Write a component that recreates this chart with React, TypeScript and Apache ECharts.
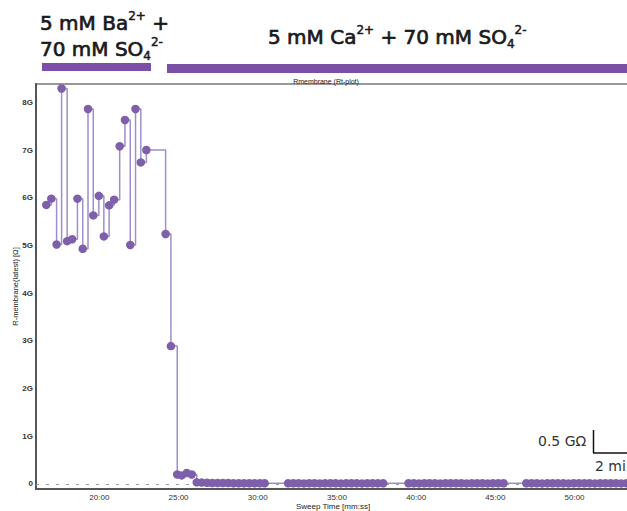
import React, { useEffect, useRef } from "react";
import * as echarts from "echarts";

// Ba2+ phase (sweep time mm:ss, R-membrane in GΩ)
const bariumTimes = ["16:39", "16:58", "17:18", "17:37", "17:58", "18:17", "18:37", "18:57", "19:17", "19:37", "19:58", "20:17", "20:37", "20:56", "21:17", "21:37", "21:57", "22:17", "22:37", "22:58"];
const bariumValues = [5.85, 5.98, 5.02, 8.29, 5.09, 5.13, 5.98, 4.93, 7.86, 5.63, 6.04, 5.19, 5.84, 5.96, 7.08, 7.63, 5.01, 7.86, 6.74, 7.0];

// wash-in of Ca2+
const washTimes = ["24:11", "24:31", "24:55", "25:12", "25:31", "25:50", "26:09"];
const washValues = [5.24, 2.89, 0.2, 0.18, 0.23, 0.2, 0.035];

// Ca2+ phase recordings (segments)
const calciumTimesA = ["26:28", "26:48", "27:08", "27:28", "27:48", "28:08", "28:28", "28:48", "29:08", "29:28", "29:48", "30:08", "30:26"];
const calciumValuesA = [0.03, 0.025, 0.02, 0.02, 0.02, 0.02, 0.015, 0.015, 0.015, 0.015, 0.015, 0.015, 0.015];
const calciumTimesB = ["31:55", "32:15", "32:35", "32:55", "33:15", "33:35", "33:55", "34:15", "34:35", "34:55", "35:15", "35:35", "35:55", "36:15", "36:35", "36:55", "37:15", "37:35", "37:55"];
const calciumValuesB = [0.015, 0.015, 0.015, 0.012, 0.015, 0.015, 0.012, 0.015, 0.015, 0.015, 0.012, 0.015, 0.015, 0.015, 0.012, 0.015, 0.015, 0.015, 0.015];
const calciumTimesC = ["39:31", "39:51", "40:11", "40:31", "40:51", "41:11", "41:31", "41:51", "42:11", "42:31", "42:51", "43:11", "43:31", "43:51", "44:11", "44:31", "44:51", "45:11", "45:31"];
const calciumValuesC = [0.015, 0.015, 0.012, 0.015, 0.015, 0.015, 0.012, 0.015, 0.015, 0.015, 0.015, 0.012, 0.015, 0.015, 0.015, 0.012, 0.015, 0.015, 0.015];
const calciumTimesD = ["46:57", "47:17", "47:37", "47:57", "48:17", "48:37", "48:57", "49:17", "49:37", "49:57", "50:17", "50:37", "50:57", "51:17", "51:37", "51:57", "52:17", "52:37", "52:57", "53:17", "53:37"];
const calciumValuesD = [0.015, 0.015, 0.015, 0.012, 0.015, 0.015, 0.015, 0.015, 0.012, 0.015, 0.015, 0.015, 0.015, 0.012, 0.015, 0.015, 0.015, 0.015, 0.012, 0.015, 0.015];

const xTickLabels = ["20:00", "25:00", "30:00", "35:00", "40:00", "45:00", "50:00"];
const yTickLabels = ["0", "1G", "2G", "3G", "4G", "5G", "6G", "7G", "8G"];

const toMin = (s: string) => {
  const [m, sec] = s.split(":").map(Number);
  return m + sec / 60;
};

const pairs = (t: string[], v: number[]) => t.map((s, i) => [toMin(s), v[i]]);

export default function App() {
  const ref = useRef<HTMLDivElement>(null);
  useEffect(() => {
    if (!ref.current) return;
    const chart = echarts.init(ref.current, null, { renderer: "svg" });
    const data = [
      ...pairs(bariumTimes, bariumValues),
      ...pairs(washTimes, washValues),
      ...pairs(calciumTimesA, calciumValuesA),
      ...pairs(calciumTimesB, calciumValuesB),
      ...pairs(calciumTimesC, calciumValuesC),
      ...pairs(calciumTimesD, calciumValuesD),
    ];
    const headFont = "'DejaVu Sans', sans-serif";
    const ink = "#1a1a1a";
    const headRich = {
      n: { fontSize: 20, fontFamily: headFont, fill: ink, stroke: ink, lineWidth: 0.7, lineHeight: 26 },
      sup: { fontSize: 12, fontFamily: headFont, fill: ink, stroke: ink, lineWidth: 0.5, verticalAlign: "top", lineHeight: 14 },
      sub: { fontSize: 12, fontFamily: headFont, fill: ink, stroke: ink, lineWidth: 0.5, verticalAlign: "bottom", lineHeight: 14 },
    };
    const xTickValues = xTickLabels.map(toMin);
    chart.setOption({
      animation: false,
      backgroundColor: "#ffffff",
      grid: {
        left: 36,
        top: 84,
        right: 10,
        bottom: 22,
        containLabel: false,
        outerBoundsMode: "none",
        show: true,
        borderColor: "#777",
        borderWidth: 1.5,
      },
      xAxis: {
        type: "value",
        min: 16,
        max: 53.5,
        name: "Sweep Time [mm:ss]",
        nameLocation: "middle",
        nameGap: 13.5,
        nameMoveOverlap: false,
        nameTextStyle: { fontSize: 8, color: "#222", fontFamily: "'Liberation Sans', Arial, sans-serif" },
        axisLine: { show: true, onZero: false, lineStyle: { color: "#555", width: 2 } },
        axisTick: { show: false },
        splitLine: { show: false },
        axisLabel: {
          customValues: xTickValues,
          formatter: (v: number) => {
            const i = xTickValues.findIndex((t) => Math.abs(t - v) < 1e-6);
            return i >= 0 ? xTickLabels[i] : "";
          },
          fontSize: 8,
          color: "#333",
          margin: 4,
          fontFamily: "'Liberation Sans', Arial, sans-serif",
        },
      },
      yAxis: {
        type: "value",
        min: -0.105,
        max: 8.384,
        name: "R-membrane(latest) [Ω]",
        nameLocation: "middle",
        nameGap: 17,
        nameMoveOverlap: false,
        nameTextStyle: { fontSize: 7.5, color: "#222", fontFamily: "'Liberation Sans', Arial, sans-serif" },
        axisLine: { show: true, onZero: false, lineStyle: { color: "#555", width: 2 } },
        axisTick: { show: false },
        splitLine: { show: false },
        axisLabel: {
          customValues: yTickLabels.map((_, i) => i),
          formatter: (v: number) => yTickLabels[Math.round(v)] ?? "",
          fontSize: 8,
          color: "#333",
          fontWeight: "bold",
          margin: 3,
          fontFamily: "'Liberation Sans', Arial, sans-serif",
        },
      },
      series: [
        {
          type: "line",
          step: "end",
          data,
          symbol: "circle",
          symbolSize: 8.5,
          showSymbol: true,
          itemStyle: { color: "#7d5faa" },
          lineStyle: { color: "#a08dcb", width: 1.5 },
          z: 3,
          markLine: {
            silent: true,
            symbol: ["none", "none"],
            label: { show: false },
            lineStyle: { color: "#999", type: [3, 7], width: 1.2 },
            data: [{ yAxis: 0 }],
            z: 1,
          },
        },
      ],
      graphic: [
        { type: "rect", shape: { x: 42, y: 63, width: 109, height: 8 }, style: { fill: "#7b4fa6" } },
        { type: "rect", shape: { x: 167, y: 64, width: 480, height: 9 }, style: { fill: "#7b4fa6" } },
        {
          type: "text",
          x: 40,
          y: 10,
          style: {
            text: "{n|5 mM Ba}{sup|2+}{n| +}\n{n|70 mM SO}{sub|4}{sup|2-}",
            rich: headRich,
          },
        },
        {
          type: "text",
          x: 268,
          y: 24,
          style: {
            text: "{n|5 mM Ca}{sup|2+}{n| + 70 mM SO}{sub|4}{sup|2-}",
            rich: headRich,
          },
        },
        {
          type: "text",
          x: 326,
          y: 81,
          style: {
            text: "Rmembrane (Rt-plot)",
            fontSize: 7,
            fill: "#222",
            align: "center",
            verticalAlign: "middle",
            fontFamily: "'Liberation Sans', Arial, sans-serif",
          },
        },
        {
          type: "text",
          x: 538,
          y: 441,
          style: { text: "0.5 GΩ", fontSize: 14, fill: "#333", verticalAlign: "middle", fontFamily: "'DejaVu Sans', sans-serif" },
        },
        {
          type: "text",
          x: 595,
          y: 466,
          style: { text: "2 min", fontSize: 14, fill: "#333", verticalAlign: "middle", fontFamily: "'DejaVu Sans', sans-serif" },
        },
        { type: "line", shape: { x1: 593.5, y1: 430, x2: 593.5, y2: 453 }, style: { stroke: "#111", lineWidth: 1.5 } },
        { type: "line", shape: { x1: 593, y1: 453, x2: 640, y2: 453 }, style: { stroke: "#111", lineWidth: 1.5 } },
      ],
    });
    return () => chart.dispose();
  }, []);
  return (
    <div style={{ position: "fixed", left: 0, top: 0, width: 627, height: 511, overflow: "hidden", background: "#fff" }}>
      <div ref={ref} style={{ width: 640, height: 511 }} />
    </div>
  );
}
